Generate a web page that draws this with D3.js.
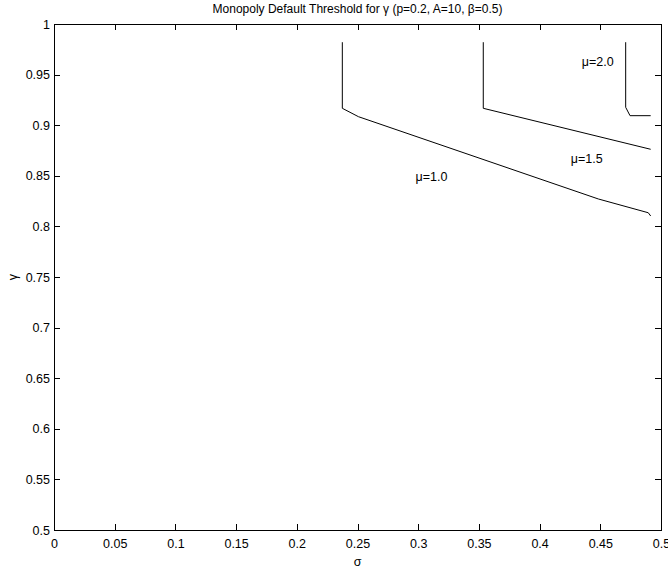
<!DOCTYPE html>
<html>
<head>
<meta charset="utf-8">
<script src="https://cdn.jsdelivr.net/npm/d3@7"></script>
<style>
  body { margin: 0; background: #fff; }
  svg { font-family: "Liberation Sans", Arial, sans-serif; }
  .axis path, .axis line { stroke: #000; shape-rendering: crispEdges; }
  .axis text { font-size: 12.5px; fill: #000; }
</style>
</head>
<body>
<div id="chart"></div>
<script>
(function() {
  var margin = {top: 24, right: 7, bottom: 39, left: 54},
      width = 668 - margin.left - margin.right,
      height = 569 - margin.top - margin.bottom;

  // tick values for both axes
  var sigmaTicks = [0, 0.05, 0.1, 0.15, 0.2, 0.25, 0.3, 0.35, 0.4, 0.45, 0.5];
  var gammaTicks = [0.5, 0.55, 0.6, 0.65, 0.7, 0.75, 0.8, 0.85, 0.9, 0.95, 1];

  // threshold contours
  var mu10Sigma = [0.2375, 0.2375, 0.2508, 0.4484, 0.4895, 0.4915];
  var mu10Gamma = [0.982, 0.9167, 0.9084, 0.8271, 0.8135, 0.8103];

  var mu15Sigma = [0.3536, 0.3536, 0.4915];
  var mu15Gamma = [0.982, 0.9167, 0.8762];

  var mu20Sigma = [0.4709, 0.4709, 0.4745, 0.4915];
  var mu20Gamma = [0.982, 0.9177, 0.9094, 0.9094];

  var labels = ["\u03bc=1.0", "\u03bc=1.5", "\u03bc=2.0"];
  var labelSigma = [0.311, 0.4388, 0.4479];
  var labelGamma = [0.849, 0.8673, 0.9625];

  var xPositionScale = d3.scaleLinear().domain([0, 0.5]).range([0, width]);
  var yPositionScale = d3.scaleLinear().domain([0.5, 1]).range([height, 0]);

  var svg = d3.select("#chart")
        .append("svg")
        .attr("width", width + margin.left + margin.right)
        .attr("height", height + margin.top + margin.bottom)
        .append("g")
        .attr("transform", "translate(" + margin.left + "," + margin.top + ")");

  var fmt = function(d) { return d3.format("")(+d.toFixed(2)); };

  // axes, ticks pointing inward like matlab
  svg.append("g")
      .attr("class", "x axis")
      .attr("transform", "translate(0," + height + ")")
      .call(d3.axisBottom(xPositionScale).tickValues(sigmaTicks).tickFormat(fmt)
        .tickSizeInner(-6).tickSizeOuter(0).tickPadding(9));

  svg.append("g")
      .attr("class", "x axis")
      .call(d3.axisTop(xPositionScale).tickValues(sigmaTicks).tickFormat("")
        .tickSizeInner(-6).tickSizeOuter(0));

  svg.append("g")
      .attr("class", "y axis")
      .call(d3.axisLeft(yPositionScale).tickValues(gammaTicks).tickFormat(fmt)
        .tickSizeInner(-6).tickSizeOuter(0).tickPadding(4));

  svg.append("g")
      .attr("class", "y axis")
      .attr("transform", "translate(" + width + ",0)")
      .call(d3.axisRight(yPositionScale).tickValues(gammaTicks).tickFormat("")
        .tickSizeInner(-6).tickSizeOuter(0));

  var line = d3.line()
    .x(function(d) { return xPositionScale(d[0]); })
    .y(function(d) { return yPositionScale(d[1]); });

  var curves = [
    d3.zip(mu10Sigma, mu10Gamma),
    d3.zip(mu15Sigma, mu15Gamma),
    d3.zip(mu20Sigma, mu20Gamma)
  ];

  svg.selectAll(".contour")
      .data(curves)
      .enter().append("path")
      .attr("class", "contour")
      .attr("d", line)
      .attr("fill", "none")
      .attr("stroke", "#000")
      .attr("stroke-width", 1);

  svg.selectAll(".mu-label")
      .data(labels)
      .enter().append("text")
      .attr("class", "mu-label")
      .attr("x", function(d, i) { return xPositionScale(labelSigma[i]); })
      .attr("y", function(d, i) { return yPositionScale(labelGamma[i]); })
      .attr("dy", "0.35em")
      .style("text-anchor", "middle")
      .style("font-size", "12.5px")
      .text(function(d) { return d; });

  svg.append("text")
      .attr("x", width / 2)
      .attr("y", -11)
      .style("text-anchor", "middle")
      .style("font-size", "12px")
      .text("Monopoly Default Threshold for \u03b3 (p=0.2, A=10, \u03b2=0.5)");

  svg.append("text")
      .attr("x", width / 2)
      .attr("y", height + 36)
      .style("text-anchor", "middle")
      .style("font-size", "12.5px")
      .text("\u03c3");

  svg.append("text")
      .attr("transform", "translate(" + (-41) + "," + (height / 2) + ") rotate(-90)")
      .attr("dy", "0.35em")
      .style("text-anchor", "middle")
      .style("font-size", "12.5px")
      .text("\u03b3");
})();
</script>
</body>
</html>
